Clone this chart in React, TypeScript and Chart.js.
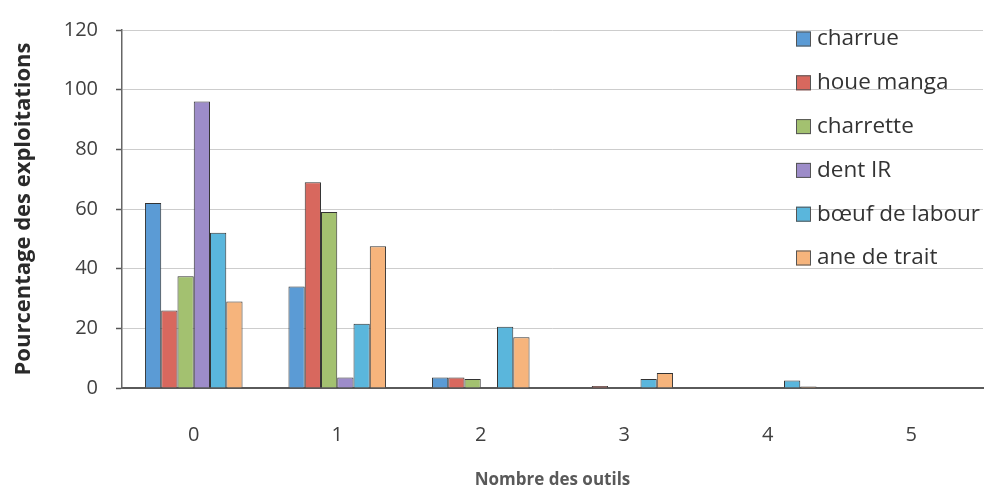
import React, { useEffect, useRef } from "react";
import { Chart, registerables } from "chart.js";

Chart.register(...registerables);

const categories = ["0", "1", "2", "3", "4", "5"];
const seriesNames = ["charrue", "houe manga", "charrette", "dent IR", "bœuf de labour", "ane de trait"];
const charrue = [62, 34, 3.5, 0, 0, 0];
const houeManga = [26, 69, 3.5, 0.7, 0, 0];
const charrette = [37.5, 59, 3, 0, 0, 0];
const dentIR = [96, 3.5, 0, 0, 0, 0];
const boeufLabour = [52, 21.5, 20.5, 3, 2.5, 0];
const aneTrait = [29, 47.5, 17, 5, 0.5, 0];
const yTicks = [0, 20, 40, 60, 80, 100, 120];

const seriesValues = [charrue, houeManga, charrette, dentIR, boeufLabour, aneTrait];
const seriesColors = ["#5b9bd5", "#d8685e", "#a3c170", "#9d8cc9", "#5ab6dc", "#f6b47c"];

const legendPlugin = {
  id: "insideLegend",
  afterDraw(chart: any) {
    const ctx = chart.ctx;
    ctx.save();
    ctx.font = "22.5px 'Open Sans'";
    ctx.textBaseline = "middle";
    chart.data.datasets.forEach((ds: any, i: number) => {
      const y = 39 + i * 43.8;
      ctx.fillStyle = ds.backgroundColor;
      ctx.fillRect(796, y - 7.5, 15, 15);
      ctx.strokeStyle = "#555";
      ctx.lineWidth = 1;
      ctx.strokeRect(796.5, y - 7, 14, 14);
      ctx.fillStyle = "#333";
      ctx.fillText(ds.label, 817, y);
    });
    ctx.restore();
  },
};

export default function App() {
  const ref = useRef<HTMLCanvasElement>(null);
  useEffect(() => {
    if (!ref.current) return;
    const chart = new Chart(ref.current, {
      type: "bar",
      data: {
        labels: categories,
        datasets: seriesNames.map((name, i) => ({
          label: name,
          data: seriesValues[i],
          backgroundColor: seriesColors[i],
          borderColor: "#333",
          borderWidth: 1,
          categoryPercentage: 0.68,
          barPercentage: 1,
        })),
      },
      options: {
        animation: false,
        responsive: false,
        devicePixelRatio: 1,
        layout: { padding: { top: 28, right: 4, left: 0, bottom: 0 } },
        plugins: { legend: { display: false }, tooltip: { enabled: false } },
        scales: {
          x: {
            grid: { display: true, color: "transparent", drawTicks: false },
            border: { display: true, color: "#5a5a5a", width: 2 },
            ticks: { padding: 35, color: "#404040", font: { family: "'Open Sans'", size: 20 } },
            title: {
              display: true,
              text: "Nombre des outils",
              color: "#595959",
              font: { family: "'Open Sans'", size: 17, weight: "bold" },
              padding: { top: 0, bottom: 4 },
            },
            afterFit: (s: any) => { s.height = 106; },
          },
          y: {
            min: 0,
            max: 120,
            afterBuildTicks: (s: any) => { s.ticks = yTicks.map((v) => ({ value: v })); },
            grid: { color: "#cdcdcd", lineWidth: 1, drawTicks: true, tickLength: 6, tickColor: "#555", tickWidth: 1.5 },
            border: { display: true, color: "#666", width: 1.5 },
            ticks: { padding: 18, color: "#404040", font: { family: "'Open Sans'", size: 20 } },
            title: {
              display: true,
              text: "Pourcentage des exploitations",
              color: "#2a2a2a",
              font: { family: "'Open Sans'", size: 22, weight: "bold" },
              padding: { top: 11, bottom: 0 },
            },
            afterFit: (s: any) => { s.width = 122; },
          },
        },
      },
      plugins: [legendPlugin],
    });
    return () => chart.destroy();
  }, []);
  return (
    <div style={{ position: "fixed", left: 0, top: 0, width: 987, height: 494, background: "#fff" }}>
      <canvas ref={ref} width={987} height={494} />
    </div>
  );
}
